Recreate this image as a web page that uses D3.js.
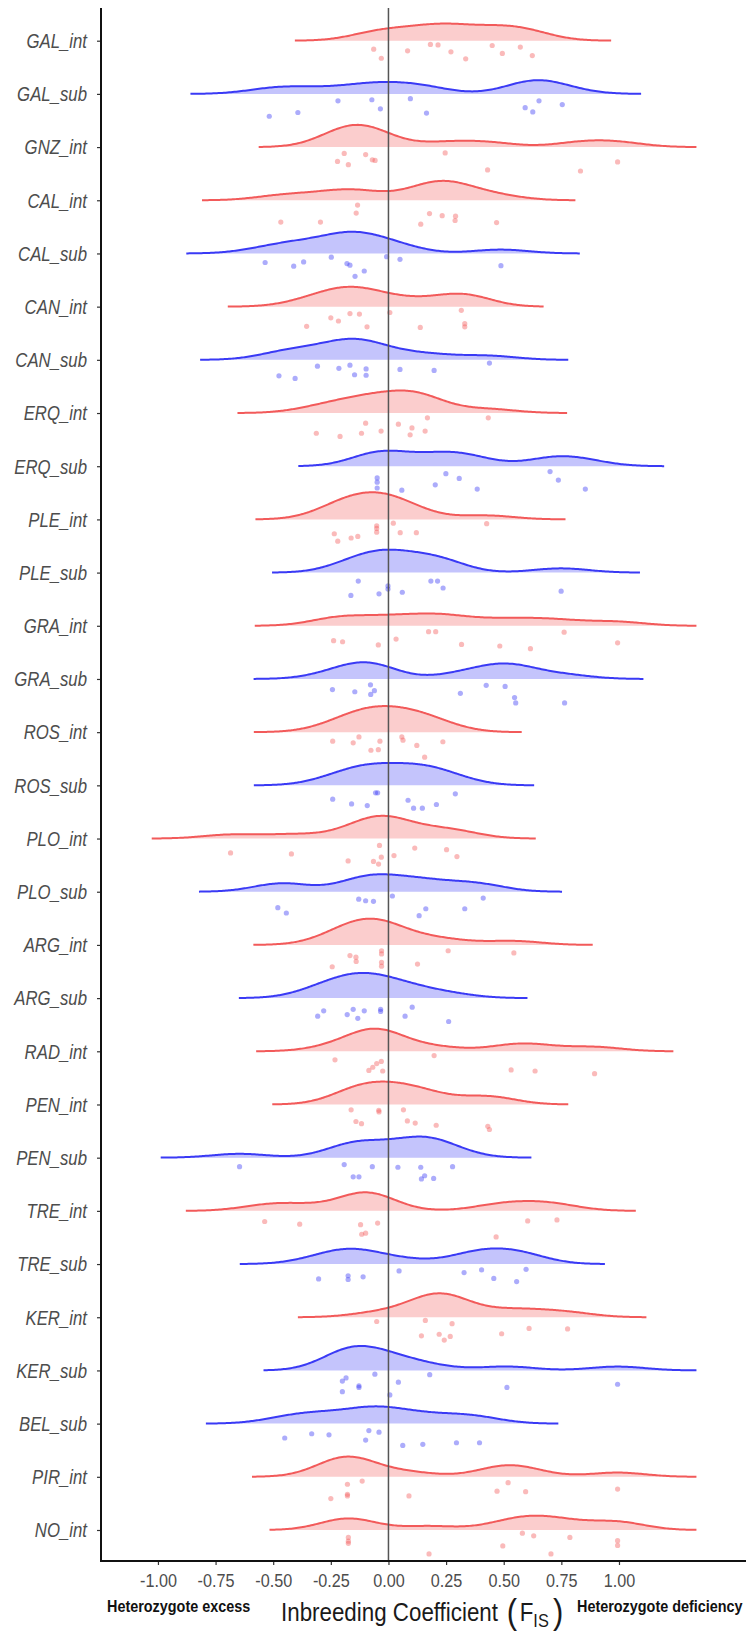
<!DOCTYPE html>
<html><head><meta charset="utf-8">
<script src="https://cdn.jsdelivr.net/npm/d3@7"></script>
<style>body{margin:0;background:#fff}svg{display:block}</style>
</head><body><svg id="c" width="746" height="1631"></svg>
<script>
// ---------- data ----------
const categories = ["GAL_int","GAL_sub","GNZ_int","CAL_int","CAL_sub","CAN_int","CAN_sub","ERQ_int","ERQ_sub","PLE_int","PLE_sub","GRA_int","GRA_sub","ROS_int","ROS_sub","PLO_int","PLO_sub","ARG_int","ARG_sub","RAD_int","PEN_int","PEN_sub","TRE_int","TRE_sub","KER_int","KER_sub","BEL_sub","PIR_int","NO_int"];

// F_IS values per population (same order as categories)
const fisValues = [
  [-0.064,-0.031,0.083,0.182,0.215,0.271,0.335,0.450,0.494,0.572,0.624],
  [-0.517,-0.393,-0.219,-0.072,-0.035,0.095,0.165,0.593,0.626,0.653,0.754],
  [-0.221,-0.192,-0.174,-0.099,-0.070,-0.058,0.246,0.430,0.833,0.994],
  [-0.134,-0.140,-0.467,-0.295,0.140,0.178,0.233,0.291,0.289,0.469],
  [-0.535,-0.411,-0.368,-0.248,-0.180,-0.167,-0.145,-0.105,-0.008,0.050,0.488],
  [-0.250,-0.217,-0.167,-0.126,0.006,-0.355,-0.093,0.138,0.316,0.331,0.331],
  [-0.475,-0.405,-0.308,-0.215,-0.167,-0.147,-0.097,-0.097,0.050,0.198,0.438],
  [-0.313,-0.210,-0.117,-0.099,-0.032,0.043,0.094,0.102,0.159,0.169,0.433],
  [-0.049,-0.049,-0.049,0.058,0.203,0.249,0.307,0.385,0.701,0.737,0.854],
  [-0.235,-0.220,-0.162,-0.133,-0.051,-0.051,-0.051,0.021,0.051,0.121,0.426],
  [-0.131,-0.163,-0.041,-0.002,-0.002,0.060,0.184,0.213,0.237,0.749],
  [-0.238,-0.199,-0.044,0.033,0.174,0.205,0.317,0.483,0.616,0.762,0.994],
  [-0.243,-0.146,-0.078,-0.077,-0.061,0.312,0.424,0.506,0.547,0.552,0.764],
  [-0.242,-0.153,-0.128,-0.076,-0.044,-0.037,0.058,0.063,0.123,0.157,0.236],
  [-0.242,-0.160,-0.092,-0.056,-0.047,0.085,0.109,0.147,0.208,0.290],
  [-0.685,-0.421,-0.175,-0.065,-0.043,-0.039,-0.031,0.024,0.114,0.252,0.297],
  [-0.480,-0.443,-0.129,-0.099,-0.065,0.017,0.133,0.162,0.331,0.411],
  [-0.244,-0.167,-0.141,-0.140,-0.030,-0.030,-0.030,-0.030,0.126,0.259,0.544],
  [-0.307,-0.281,-0.179,-0.153,-0.133,-0.105,-0.034,-0.034,0.072,0.103,0.261],
  [-0.232,-0.085,-0.068,-0.051,-0.031,-0.025,0.198,0.532,0.636,0.894],
  [-0.162,-0.141,-0.117,-0.042,-0.041,0.065,0.082,0.116,0.207,0.431,0.438],
  [-0.646,-0.192,-0.153,-0.128,-0.070,0.041,0.140,0.143,0.157,0.196,0.278],
  [-0.537,-0.385,-0.121,-0.116,-0.099,-0.047,0.467,0.604,0.731],
  [-0.303,-0.175,-0.175,-0.110,0.046,0.328,0.404,0.457,0.556,0.597],
  [-0.051,0.160,0.276,0.143,0.220,0.242,0.268,0.491,0.610,0.777],
  [-0.200,-0.200,-0.184,-0.128,-0.128,-0.059,0.006,0.043,0.179,0.514,0.994],
  [-0.450,-0.333,-0.258,-0.099,-0.085,-0.041,0.062,0.149,0.295,0.395],
  [-0.178,-0.178,-0.178,-0.114,-0.250,0.089,0.471,0.519,0.595,0.994],
  [-0.174,-0.174,-0.174,0.176,0.496,0.581,0.630,0.705,0.787,0.994,0.994]
];

// vertical jitter of each point, as a fraction of the row spacing
const jitterFractions = [
  [.16,.33,.19,.07,.08,.21,.34,.09,.24,.12,.28],
  [.42,.35,.13,.11,.28,.09,.36,.26,.34,.13,.20],
  [.27,.12,.33,.14,.24,.25,.11,.43,.45,.28],
  [.09,.24,.41,.41,.45,.25,.29,.30,.38,.42],
  [.17,.24,.16,.07,.19,.22,.43,.33,.06,.11,.23],
  [.21,.27,.13,.14,.11,.37,.38,.39,.07,.32,.38],
  [.30,.35,.12,.16,.10,.28,.17,.29,.18,.20,.06],
  [.38,.44,.38,.19,.34,.21,.41,.28,.34,.09,.09],
  [.22,.30,.41,.45,.35,.14,.23,.43,.10,.26,.43],
  [.27,.41,.35,.32,.12,.17,.24,.07,.25,.25,.08],
  [.16,.43,.40,.25,.31,.37,.16,.16,.29,.35],
  [.28,.30,.36,.25,.11,.11,.35,.38,.43,.12,.32],
  [.20,.24,.11,.29,.22,.27,.12,.14,.35,.45,.45],
  [.17,.20,.09,.34,.33,.17,.09,.15,.25,.47,.18],
  [.26,.35,.38,.14,.14,.28,.43,.43,.36,.16],
  [.27,.29,.42,.43,.48,.13,.35,.32,.18,.21,.34],
  [.30,.40,.14,.17,.18,.08,.45,.32,.32,.12],
  [.41,.20,.23,.31,.11,.17,.33,.40,.36,.11,.15],
  [.34,.24,.31,.21,.38,.24,.21,.25,.34,.17,.44],
  [.16,.36,.30,.23,.19,.37,.08,.35,.37,.42],
  [.10,.32,.36,.11,.14,.10,.31,.35,.39,.41,.47],
  [.17,.13,.36,.36,.17,.18,.18,.40,.34,.39,.17],
  [.20,.25,.26,.44,.42,.23,.49,.19,.17],
  [.28,.22,.29,.24,.13,.16,.11,.27,.33,.10],
  [.08,.06,.12,.35,.32,.43,.36,.31,.21,.22],
  [.20,.40,.14,.29,.32,.07,.46,.22,.08,.32,.26],
  [.27,.19,.21,.31,.13,.16,.41,.39,.36,.36],
  [.14,.33,.36,.08,.41,.36,.27,.11,.28,.23],
  [.14,.21,.25,.45,.30,.06,.11,.45,.14,.20,.29]
];

const xTickValues = [-1.00,-0.75,-0.50,-0.25,0.00,0.25,0.50,0.75,1.00];
const xDomain = [-1.247, 1.551];
const jointBandwidth = 0.12;
const axisTitle = "Inbreeding Coefficient";
const leftNote = "Heterozygote excess";
const rightNote = "Heterozygote deficiency";
const colors = {int: "#F25A5A", sub: "#3A3AF5"};

// ---------- layout ----------
const FONT = "Liberation Sans, Arial, sans-serif";
const svg = d3.select("#c");
const plotLeft = 101, plotRight = 746, plotTop = 8, plotBottom = 1561;
const x = d3.scaleLinear().domain(xDomain).range([plotLeft, plotRight]);
const y = d3.scalePoint().domain(categories).range([40.7, 1530]);
const step = y.step();
const ridgeHeight = 0.51 * step;

function kde(vals, bw) {
  const lo = d3.min(vals) - 2.85 * bw, hi = d3.max(vals) + 2.85 * bw;
  const n = 256, out = [];
  const c = 1 / (vals.length * bw * Math.sqrt(2 * Math.PI));
  for (let i = 0; i <= n; i++) {
    const t = lo + (hi - lo) * i / n;
    let s = 0;
    for (const v of vals) { const z = (t - v) / bw; s += Math.exp(-0.5 * z * z); }
    out.push([t, s * c]);
  }
  return out;
}
const dens = fisValues.map(v => kde(v, jointBandwidth));
const maxD = d3.max(dens, d => d3.max(d, p => p[1]));
const h = d3.scaleLinear().domain([0, maxD]).range([0, ridgeHeight]);

const g = svg.append("g");
categories.forEach((cat, i) => {
  const col = cat.endsWith("_sub") ? colors.sub : colors.int;
  const base = y(cat);
  const area = d3.area().x(d => x(d[0])).y0(base).y1(d => base - h(d[1]));
  const line = d3.line().x(d => x(d[0])).y(d => base - h(d[1]));
  const row = g.append("g");
  row.append("path").attr("d", area(dens[i])).attr("fill", col).attr("fill-opacity", 0.3);
  row.append("path").attr("d", line(dens[i])).attr("fill", "none").attr("stroke", col).attr("stroke-width", 2);
  row.selectAll("circle").data(fisValues[i].map((v, k) => [v, jitterFractions[i][k]])).join("circle")
    .attr("cx", d => x(d[0])).attr("cy", d => base + d[1] * step).attr("r", 2.6)
    .attr("fill", col).attr("fill-opacity", 0.42);
});

// zero line
svg.append("line").attr("x1", x(0)).attr("x2", x(0)).attr("y1", plotTop).attr("y2", plotBottom)
  .attr("stroke", "#555").attr("stroke-width", 1.5);

// y axis
const yAxis = svg.append("g").attr("transform", `translate(${plotLeft},0)`)
  .call(d3.axisLeft(y).tickSize(4));
yAxis.select(".domain").remove();
yAxis.selectAll(".tick line").attr("stroke", "#333").attr("stroke-width", 1.2);
yAxis.selectAll(".tick text").remove();
yAxis.selectAll(".tick").append("text")
  .attr("transform", "translate(-14,0) scale(0.86,1)")
  .attr("text-anchor", "end").attr("dy", "0.35em")
  .attr("fill", "#4D4D4D").attr("font-family", FONT).attr("font-size", 19.5).attr("font-style", "italic")
  .text(d => d);
svg.append("line").attr("x1", plotLeft).attr("x2", plotLeft).attr("y1", plotTop).attr("y2", plotBottom + 1)
  .attr("stroke", "#111").attr("stroke-width", 2);

// x axis
const xAxis = svg.append("g").attr("transform", `translate(0,${plotBottom})`)
  .call(d3.axisBottom(x).tickValues(xTickValues).tickSize(4));
xAxis.select(".domain").remove();
xAxis.selectAll(".tick line").attr("stroke", "#333").attr("stroke-width", 1.2);
xAxis.selectAll(".tick text").remove();
xAxis.selectAll(".tick").append("text")
  .attr("transform", "translate(0,26) scale(0.9,1)")
  .attr("text-anchor", "middle")
  .attr("fill", "#4D4D4D").attr("font-family", FONT).attr("font-size", 18)
  .text(d => d3.format(".2f")(d).replace("−", "-"));
svg.append("line").attr("x1", plotLeft - 1).attr("x2", plotRight).attr("y1", plotBottom).attr("y2", plotBottom)
  .attr("stroke", "#111").attr("stroke-width", 2);

// axis title
const tt = svg.append("text").attr("transform", "translate(281,1621) scale(0.86,1)")
  .attr("font-family", FONT).attr("fill", "#1a1a1a").attr("font-size", 26);
tt.append("tspan").text(axisTitle + " ");
tt.append("tspan").attr("font-size", 36).attr("dy", 3).attr("dx", 3).text("(");
tt.append("tspan").attr("font-size", 26).attr("dy", -3).attr("dx", 3).text("F");
tt.append("tspan").attr("font-size", 19).attr("dy", 6).text("IS");
tt.append("tspan").attr("font-size", 36).attr("dy", -3).attr("dx", 5).text(")");

svg.append("text").attr("transform", "translate(107,1612) scale(0.9,1)").attr("font-family", FONT)
  .attr("font-weight", "bold").attr("font-size", 16).attr("fill", "#111").text(leftNote);
svg.append("text").attr("transform", "translate(577,1612) scale(0.9,1)").attr("font-family", FONT)
  .attr("font-weight", "bold").attr("font-size", 16).attr("fill", "#111").text(rightNote);
</script></body></html>
